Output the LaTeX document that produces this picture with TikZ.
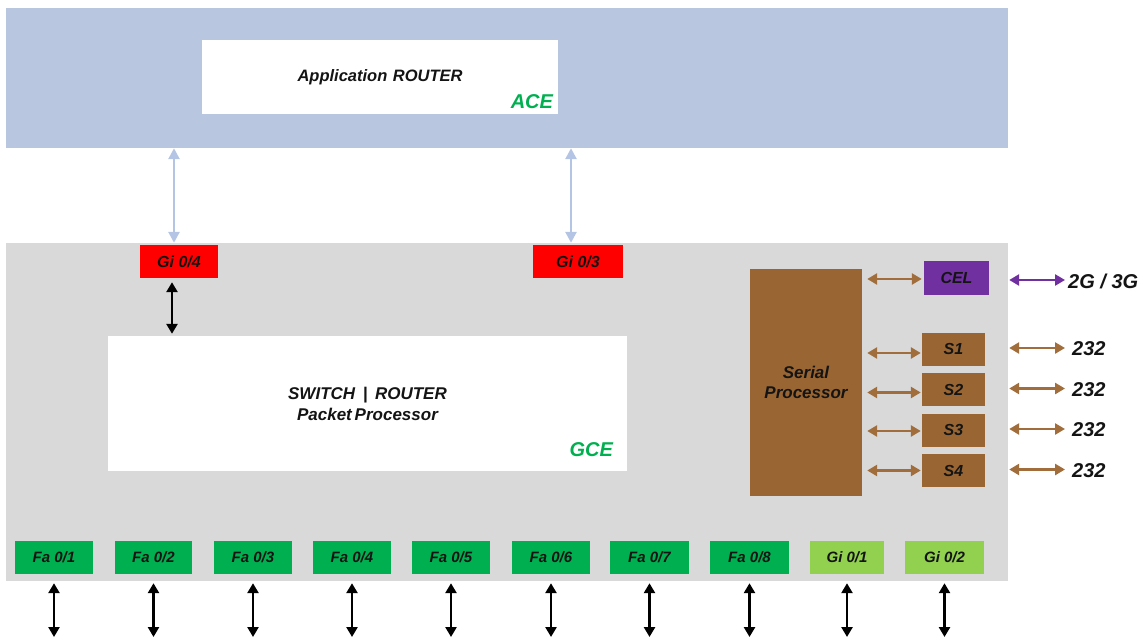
\documentclass[tikz,border=0pt]{standalone}
\usepackage{fontspec}
\setmainfont{Liberation Sans}
\usetikzlibrary{arrows.meta}
\definecolor{bandblue}{HTML}{B9C6E0}
\definecolor{arrblue}{HTML}{B4C4E4}
\definecolor{bandgray}{HTML}{D9D9D9}
\definecolor{pred}{HTML}{FF0000}
\definecolor{pgreen}{HTML}{00B050}
\definecolor{plgreen}{HTML}{92D050}
\definecolor{ppurple}{HTML}{7030A0}
\definecolor{pbrown}{HTML}{996633}
\definecolor{abrown}{HTML}{A06D3B}
\definecolor{ink}{HTML}{141414}
\definecolor{acegreen}{HTML}{00B050}
\begin{document}
\begin{tikzpicture}[x=1pt,y=-1pt,
  lbl/.style={font=\fontsize{#1}{#1}\selectfont\bfseries\itshape, text=ink},
  band/.style={draw=none, inner sep=0pt},
  portbox/.style={draw=none, inner sep=0pt, minimum height=33pt, text=ink,
     font=\fontsize{15}{15}\selectfont\bfseries\itshape},
  blk/.style={line width=2.6pt, black, {Triangle[width=11pt,length=10pt]}-{Triangle[width=11pt,length=10pt]}},
  lba/.style={line width=2.6pt, arrblue, {Triangle[width=11pt,length=11pt]}-{Triangle[width=11pt,length=11pt]}},
  bra/.style={line width=2.6pt, abrown, {Triangle[width=11pt,length=10pt]}-{Triangle[width=11pt,length=10pt]}},
  pua/.style={line width=2.6pt, ppurple, {Triangle[width=11pt,length=10pt]}-{Triangle[width=11pt,length=10pt]}}
]
\useasboundingbox (0,0) rectangle (1147,639);
% bands
\node[band, fill=bandblue, minimum width=1002pt, minimum height=140pt] (top) at (507,78) {};
\node[band, fill=bandgray, minimum width=1002pt, minimum height=338pt] (gray) at (507,412) {};
% application router
\node[band, fill=white, minimum width=356pt, minimum height=74pt, lbl=16.5] (ar) at (380,77) {Application\,\,ROUTER};
\node[anchor=base east, inner sep=0pt, font=\fontsize{20}{20}\selectfont\bfseries\itshape, text=acegreen] (ace) at ([xshift=-5pt,yshift=6pt]ar.south east) {ACE};
% switch
\node[band, fill=white, minimum width=519pt, minimum height=135pt, align=center,
  font=\fontsize{17}{21}\selectfont\bfseries\itshape, text=ink] (sw) at (367.5,403.5) {SWITCH \,|\, ROUTER\\Packet\,Processor};
\node[anchor=base east, inner sep=0pt, font=\fontsize{20}{20}\selectfont\bfseries\itshape, text=acegreen] (gce) at ([xshift=-14pt,yshift=15pt]sw.south east) {GCE};
% Gi 0/4, Gi 0/3
\node[portbox, fill=pred, minimum width=78pt, font=\fontsize{16}{16}\selectfont\bfseries\itshape] (gi4) at (179,261.5) {Gi 0/4};
\node[portbox, fill=pred, minimum width=90pt, font=\fontsize{16}{16}\selectfont\bfseries\itshape] (gi3) at (578,261.5) {Gi 0/3};
\draw[lba] ([xshift=-5pt]gi4.north |- top.south) -- ([xshift=-5pt,yshift=2pt]gi4.north);
\draw[lba] ([xshift=-7pt]gi3.north |- top.south) -- ([xshift=-7pt,yshift=2pt]gi3.north);
\draw[blk] ([xshift=-7pt,yshift=-4pt]gi4.south) -- ([xshift=-7pt,yshift=2pt]gi4.south |- sw.north);
% serial processor
\node[band, fill=pbrown, minimum width=112pt, minimum height=227pt, align=center,
  font=\fontsize{17}{20}\selectfont\bfseries\itshape, text=ink] (sp) at (806,382.5) {Serial\\Processor};
\node[portbox, fill=ppurple, minimum width=65pt, minimum height=34pt, font=\fontsize{16}{16}\selectfont\bfseries\itshape] (cel) at (956.5,278) {CEL};
\node[portbox, fill=pbrown, minimum width=63pt, font=\fontsize{16}{16}\selectfont\bfseries\itshape] (s1) at (953.5,349) {S1};
\node[portbox, fill=pbrown, minimum width=63pt, font=\fontsize{16}{16}\selectfont\bfseries\itshape] (s2) at (953.5,389.5) {S2};
\node[portbox, fill=pbrown, minimum width=63pt, font=\fontsize{16}{16}\selectfont\bfseries\itshape] (s3) at (953.5,430) {S3};
\node[portbox, fill=pbrown, minimum width=63pt, font=\fontsize{16}{16}\selectfont\bfseries\itshape] (s4) at (953.5,470.5) {S4};
\draw[bra] ([xshift=5pt]sp.east |- cel.west) ++(0,1) -- ([xshift=-2pt,yshift=-1pt]cel.west);
\foreach \s/\d in {s1/4,s2/3,s3/1,s4/0}{
  \draw[bra] ([xshift=5pt,yshift=-\d pt]sp.east |- \s.west) -- ([xshift=-1pt,yshift=-\d pt]\s.west);
}
% external labels
\node[anchor=west, inner sep=0pt, lbl=20] (g23) at (1068,281) {2G / 3G};
\node[anchor=west, inner sep=0pt, lbl=20] (t1) at (1072,349) {232};
\node[anchor=west, inner sep=0pt, lbl=20] (t2) at (1072,389.5) {232};
\node[anchor=west, inner sep=0pt, lbl=20] (t3) at (1072,430) {232};
\node[anchor=west, inner sep=0pt, lbl=20] (t4) at (1072,470.5) {232};
\draw[pua] (gray.east |- g23.west) ++(1,-1) -- ([xshift=-3pt,yshift=1pt]g23.west);
\foreach \t in {t1,t2,t3,t4}{
  \draw[bra] ([xshift=1pt,yshift=1pt]gray.east |- \t.west) -- ([xshift=-7pt,yshift=1pt]\t.west);
}
% bottom ports
\coordinate (bot) at (0,637);
\foreach \n/\x/\w/\c/\t in {fa1/54/78/pgreen/Fa 0\slash1, fa2/153.5/77/pgreen/Fa 0\slash2, fa3/253/78/pgreen/Fa 0\slash3,
   fa4/352/78/pgreen/Fa 0\slash4, fa5/451/78/pgreen/Fa 0\slash5, fa6/551/78/pgreen/Fa 0\slash6,
   fa7/649.5/79/pgreen/Fa 0\slash7, fa8/749.5/79/pgreen/Fa 0\slash8, gi1/847/74/plgreen/Gi 0\slash1, gi2/944.5/79/plgreen/Gi 0\slash2}{
  \node[portbox, fill=\c, minimum width=\w pt] (\n) at (\x,557.5) {\t};
  \draw[blk] ([yshift=-2pt]\n.south |- gray.south) -- (\n.south |- bot);
}
\end{tikzpicture}
\end{document}
